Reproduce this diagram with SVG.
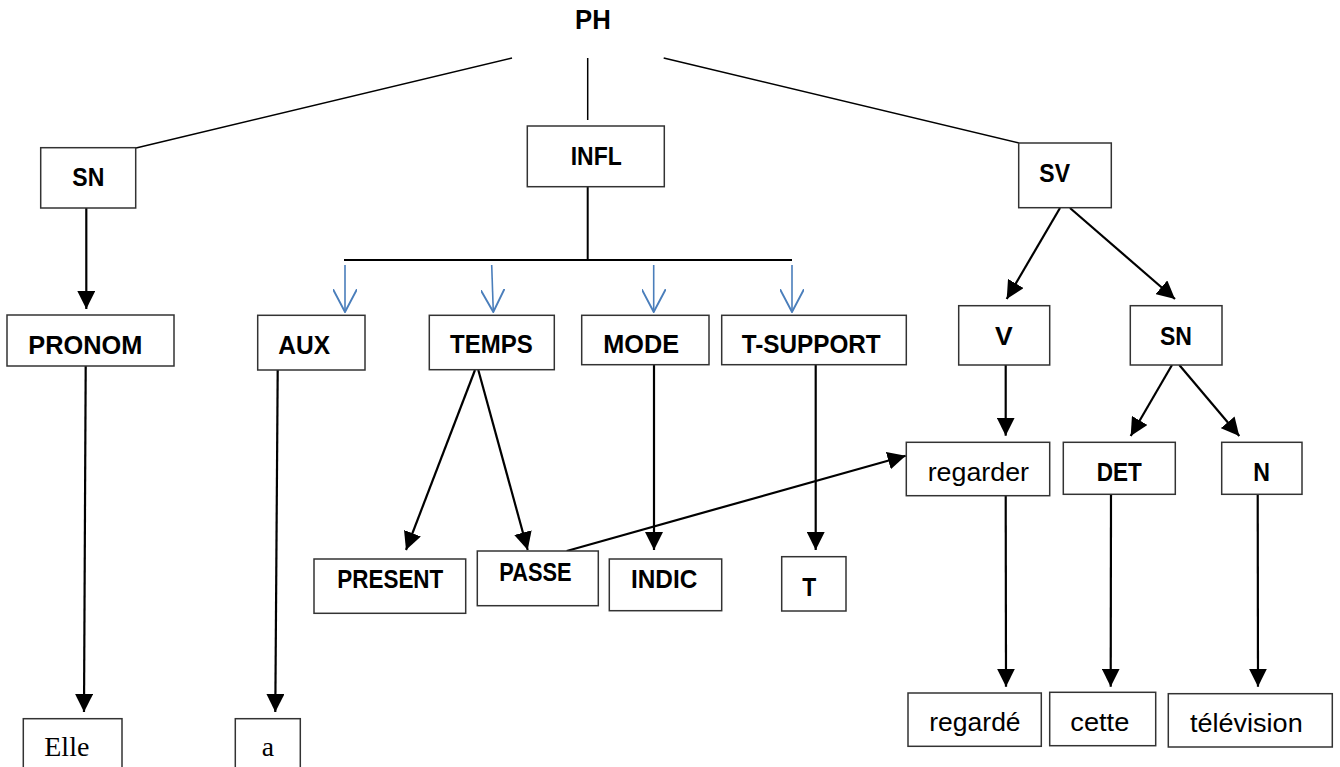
<svg xmlns="http://www.w3.org/2000/svg" width="1340" height="767" viewBox="0 0 1340 767">
<style>
.box{fill:#fff;stroke:#333;stroke-width:1.5}
.b{font-family:"Liberation Sans",Arial,sans-serif;font-weight:bold;font-size:25px;fill:#000}
.r{font-family:"Liberation Sans",Arial,sans-serif;font-size:26px;fill:#000}
.s{font-family:"Liberation Serif","Times New Roman",serif;font-size:28px;fill:#000}
.ln{stroke:#000;stroke-width:1.5;fill:none}
.ar{stroke:#000;stroke-width:2.2;fill:none;marker-end:url(#ah)}
.bl{stroke:#4a7ebb;stroke-width:1.6;fill:none;marker-end:url(#bh)}
</style>
<defs>
<marker id="ah" markerUnits="userSpaceOnUse" markerWidth="18" markerHeight="18" refX="16" refY="8" orient="auto" viewBox="0 0 16 16">
<path d="M0,0 L16,8 L0,16 z" fill="#000"/>
</marker>
<marker id="bh" markerUnits="userSpaceOnUse" markerWidth="24" markerHeight="24" refX="19" refY="10" orient="auto" viewBox="0 0 20 20">
<path d="M0,0 L19,10 L0,20" fill="none" stroke="#4a7ebb" stroke-width="1.6"/>
</marker>
</defs>
<g id="connectors">
<line class="ln" x1="512" y1="58" x2="136" y2="148"/>
<line class="ln" x1="587.7" y1="58" x2="587.7" y2="120"/>
<line class="ln" x1="663.7" y1="58" x2="1019" y2="143"/>
<line class="ln" style="stroke-width:2" x1="587.7" y1="187" x2="587.7" y2="260"/>
<line class="ln" style="stroke-width:2" x1="344" y1="260" x2="792" y2="260"/>
<line class="bl" x1="345" y1="265" x2="345" y2="312"/>
<line class="bl" x1="491.7" y1="265" x2="493.3" y2="312"/>
<line class="bl" x1="653.7" y1="265" x2="653.7" y2="312"/>
<line class="bl" x1="792" y1="265" x2="792" y2="312"/>
<line class="ar" x1="86.3" y1="208" x2="86.3" y2="309"/>
<line class="ar" x1="85.7" y1="366" x2="84" y2="712"/>
<line class="ar" x1="277.7" y1="370" x2="275.3" y2="712"/>
<line class="ar" x1="475" y1="370" x2="406" y2="550"/>
<line class="ar" x1="478.3" y1="370" x2="527.7" y2="550"/>
<line class="ar" x1="654" y1="365" x2="654" y2="550"/>
<line class="ar" x1="815.7" y1="365" x2="815.7" y2="550"/>
<line class="ar" x1="566.7" y1="551" x2="905.7" y2="455.7"/>
<line class="ar" x1="1060" y1="208" x2="1006.7" y2="299"/>
<line class="ar" x1="1070" y1="208" x2="1175" y2="299"/>
<line class="ar" x1="1005.7" y1="365" x2="1005.7" y2="435.7"/>
<line class="ar" x1="1172" y1="365" x2="1130.7" y2="436"/>
<line class="ar" x1="1179.3" y1="365" x2="1239.3" y2="436"/>
<line class="ar" x1="1005.7" y1="496" x2="1006" y2="686.7"/>
<line class="ar" x1="1111" y1="494" x2="1110.7" y2="686.7"/>
<line class="ar" x1="1257.7" y1="494" x2="1258" y2="686.7"/>
</g>
<g id="PH"><text class="b" style="font-size:27px" x="575" y="29.3" textLength="35.7" lengthAdjust="spacingAndGlyphs">PH</text></g>
<g id="SN1"><rect class="box" x="40.7" y="147.7" width="95" height="60.3"/><text class="b" x="72.3" y="185.7" textLength="32" lengthAdjust="spacingAndGlyphs">SN</text></g>
<g id="INFL"><rect class="box" x="527.3" y="126" width="137" height="60.7"/><text class="b" x="570.7" y="165" textLength="51" lengthAdjust="spacingAndGlyphs">INFL</text></g>
<g id="SV"><rect class="box" x="1018.7" y="143" width="92.6" height="64.7"/><text class="b" x="1039.3" y="181.7" textLength="30.7" lengthAdjust="spacingAndGlyphs">SV</text></g>
<g id="PRONOM"><rect class="box" x="7" y="315" width="167" height="51"/><text class="b" x="28.3" y="354.3" textLength="114" lengthAdjust="spacingAndGlyphs">PRONOM</text></g>
<g id="AUX"><rect class="box" x="257.7" y="315.3" width="107.3" height="54.7"/><text class="b" x="278.3" y="354.3" textLength="51.7" lengthAdjust="spacingAndGlyphs">AUX</text></g>
<g id="TEMPS"><rect class="box" x="429.3" y="315.3" width="125" height="54.4"/><text class="b" x="450" y="353.3" textLength="82.7" lengthAdjust="spacingAndGlyphs">TEMPS</text></g>
<g id="MODE"><rect class="box" x="581.7" y="315.3" width="127.3" height="49.4"/><text class="b" x="603.3" y="353.3" textLength="75.7" lengthAdjust="spacingAndGlyphs">MODE</text></g>
<g id="T-SUPPORT"><rect class="box" x="721.7" y="315.3" width="184.6" height="49.4"/><text class="b" x="741.7" y="353.3" textLength="139" lengthAdjust="spacingAndGlyphs">T-SUPPORT</text></g>
<g id="V"><rect class="box" x="958.7" y="305.7" width="91" height="59.3"/><text class="b" x="995" y="345" textLength="17.7" lengthAdjust="spacingAndGlyphs">V</text></g>
<g id="SN2"><rect class="box" x="1130.3" y="305.7" width="91.7" height="59.3"/><text class="b" x="1160" y="345" textLength="32" lengthAdjust="spacingAndGlyphs">SN</text></g>
<g id="PRESENT"><rect class="box" x="314" y="559" width="151.7" height="54.3"/><text class="b" x="337.3" y="588.3" textLength="106" lengthAdjust="spacingAndGlyphs">PRESENT</text></g>
<g id="PASSE"><rect class="box" x="477.3" y="551" width="121" height="54.7"/><text class="b" x="499.3" y="580.7" textLength="72.3" lengthAdjust="spacingAndGlyphs">PASSE</text></g>
<g id="INDIC"><rect class="box" x="609.3" y="559" width="112.4" height="51.7"/><text class="b" x="631" y="588.3" textLength="66.3" lengthAdjust="spacingAndGlyphs">INDIC</text></g>
<g id="T"><rect class="box" x="781.7" y="556.7" width="64.3" height="54.3"/><text class="b" x="802.3" y="595.7" textLength="14" lengthAdjust="spacingAndGlyphs">T</text></g>
<g id="regarder"><rect class="box" x="906.3" y="442.3" width="143.4" height="53.4"/><text class="r" x="927.7" y="480.7" textLength="101.3" lengthAdjust="spacingAndGlyphs">regarder</text></g>
<g id="DET"><rect class="box" x="1063.3" y="442.3" width="112" height="52"/><text class="b" x="1096.7" y="480.7" textLength="45" lengthAdjust="spacingAndGlyphs">DET</text></g>
<g id="N"><rect class="box" x="1221.7" y="442.3" width="80.3" height="52"/><text class="b" x="1253.3" y="480.7" textLength="16.7" lengthAdjust="spacingAndGlyphs">N</text></g>
<g id="regarde"><rect class="box" x="908" y="693" width="133.3" height="53.3"/><text class="r" x="929.3" y="731" textLength="91.3" lengthAdjust="spacingAndGlyphs">regardé</text></g>
<g id="cette"><rect class="box" x="1049.7" y="692.3" width="106" height="53.4"/><text class="r" x="1070.3" y="730.5" textLength="59" lengthAdjust="spacingAndGlyphs">cette</text></g>
<g id="television"><rect class="box" x="1168.3" y="693.7" width="164" height="53.3"/><text class="r" x="1190" y="731.7" textLength="112.7" lengthAdjust="spacingAndGlyphs">télévision</text></g>
<g id="Elle"><rect class="box" x="23.3" y="718.7" width="98.7" height="70"/><text class="s" x="44.3" y="755.7" textLength="45" lengthAdjust="spacingAndGlyphs">Elle</text></g>
<g id="a"><rect class="box" x="235.3" y="718.7" width="65" height="70"/><text class="s" x="261.7" y="755.7" textLength="12.3" lengthAdjust="spacingAndGlyphs">a</text></g>
</svg>
